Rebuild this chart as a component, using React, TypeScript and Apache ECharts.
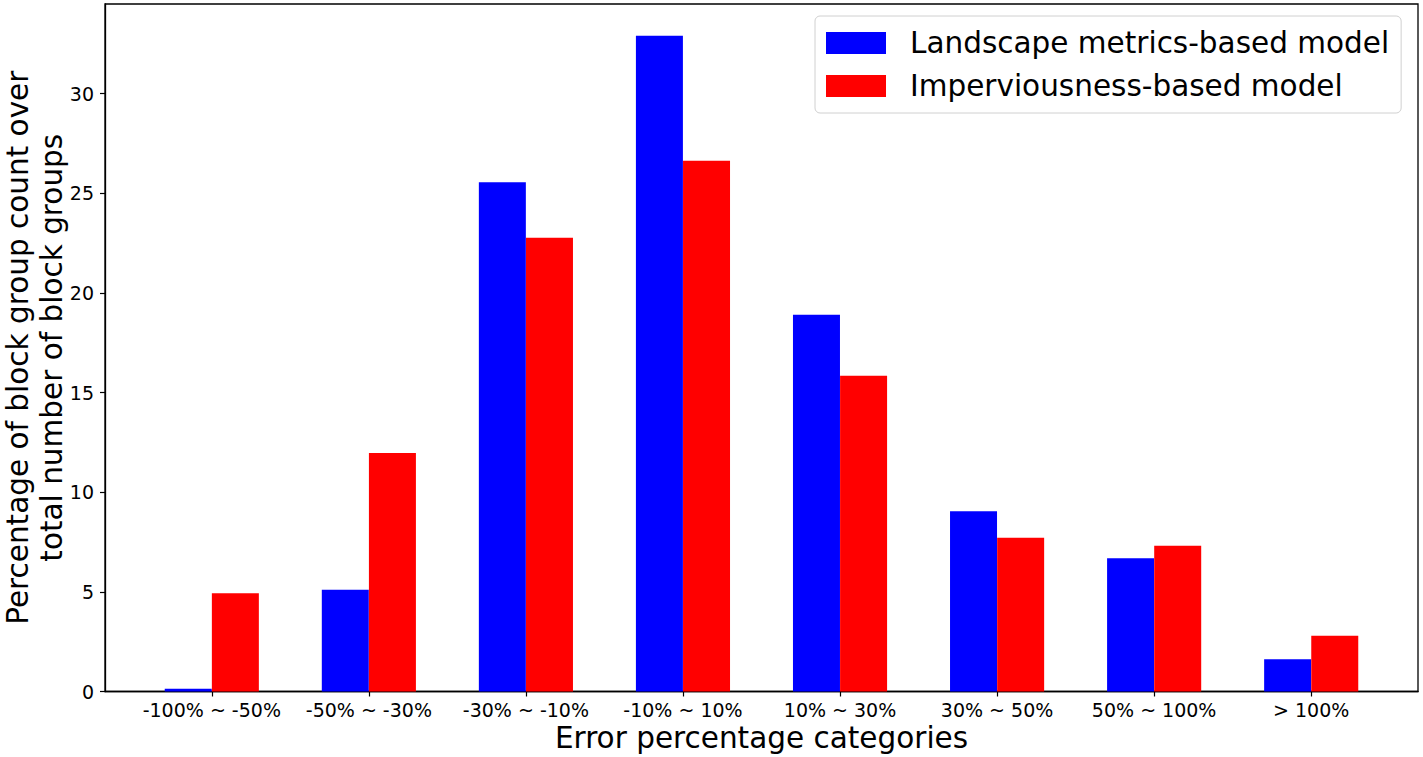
import React, { useEffect, useRef } from "react";
import * as echarts from "echarts";

const categories = [
  "-100% ~ -50%",
  "-50% ~ -30%",
  "-30% ~ -10%",
  "-10% ~ 10%",
  "10% ~ 30%",
  "30% ~ 50%",
  "50% ~ 100%",
  "> 100%",
];
const landscapeValues = [0.14, 5.1, 25.56, 32.91, 18.9, 9.05, 6.69, 1.62];
const imperviousValues = [4.93, 11.97, 22.77, 26.63, 15.84, 7.71, 7.32, 2.8];
const yTicks = [0, 5, 10, 15, 20, 25, 30];
const seriesNames = ["Landscape metrics-based model", "Imperviousness-based model"];

const FONT = "DejaVu Sans";

export default function App() {
  const ref = useRef<HTMLDivElement>(null);
  useEffect(() => {
    if (!ref.current) return;
    const chart = echarts.init(ref.current, undefined, { renderer: "svg" });
    const xTicks = categories.map((_, i) => i);
    const width = 0.3;
    chart.setOption({
      animation: false,
      backgroundColor: "#ffffff",
      grid: {
        left: 105,
        right: 5,
        top: 4,
        bottom: 65.5,
        outerBoundsMode: "none",
        containLabel: false,
        show: true,
        borderColor: "#000",
        borderWidth: 1.3,
        backgroundColor: "transparent",
      },
      legend: {
        orient: "vertical",
        left: 815,
        top: 16,
        padding: [10, 12, 10, 11],
        itemWidth: 60,
        itemHeight: 22,
        itemGap: 9,
        backgroundColor: "#fff",
        borderColor: "#d0d0d0",
        borderWidth: 1,
        borderRadius: 5,
        icon: "rect",
        data: seriesNames,
        textStyle: {
          fontFamily: FONT,
          fontSize: 29.5,
          lineHeight: 34,
          color: "#000",
          padding: [0, 0, 0, 19],
        },
      },
      xAxis: {
        type: "value",
        min: -0.68,
        max: 7.68,
        name: "Error percentage categories",
        nameLocation: "middle",
        nameGap: 29,
        nameMoveOverlap: false,
        nameTextStyle: { fontFamily: FONT, fontSize: 29.5, color: "#000", lineHeight: 34 },
        splitLine: { show: false },
        axisLine: { show: true, onZero: false, lineStyle: { color: "#000", width: 1.3 } },
        axisTick: {
          show: true,
          length: 5,
          customValues: xTicks,
          lineStyle: { color: "#000", width: 1.2 },
        },
        axisLabel: {
          customValues: xTicks,
          formatter: (v: number) => categories[Math.round(v)] ?? "",
          fontFamily: FONT,
          fontSize: 19,
          color: "#000",
          margin: 9,
        },
      },
      yAxis: {
        type: "value",
        min: 0,
        max: 34.5,
        name: "Percentage of block group count over\ntotal number of block groups",
        nameLocation: "middle",
        nameRotate: 90,
        nameGap: 36,
        nameMoveOverlap: false,
        nameTextStyle: { fontFamily: FONT, fontSize: 29.5, color: "#000", lineHeight: 34 },
        splitLine: { show: false },
        axisLine: { show: true, onZero: false, lineStyle: { color: "#000", width: 1.3 } },
        axisTick: {
          show: true,
          length: 5,
          customValues: yTicks,
          lineStyle: { color: "#000", width: 1.2 },
        },
        axisLabel: {
          customValues: yTicks,
          fontFamily: FONT,
          fontSize: 19,
          color: "#000",
          margin: 11,
        },
      },
      series: [
        {
          name: seriesNames[0],
          type: "bar",
          barWidth: 47,
          barGap: "-100%",
          itemStyle: { color: "#0000ff" },
          data: landscapeValues.map((v, i) => [i - width / 2, v]),
        },
        {
          name: seriesNames[1],
          type: "bar",
          barWidth: 47,
          barGap: "-100%",
          itemStyle: { color: "#ff0000" },
          data: imperviousValues.map((v, i) => [i + width / 2, v]),
        },
      ],
    });
    return () => chart.dispose();
  }, []);
  return (
    <div
      ref={ref}
      style={{ position: "absolute", left: 0, top: 0, width: 1423, height: 757 }}
    />
  );
}
